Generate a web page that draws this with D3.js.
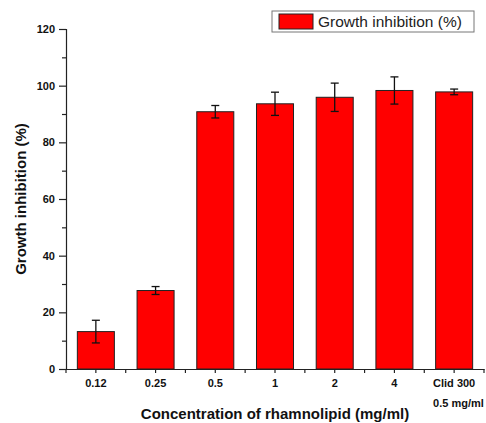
<!DOCTYPE html>
<html>
<head>
<meta charset="utf-8">
<script src="https://cdn.jsdelivr.net/npm/d3@7"></script>
<style>
  html, body { margin: 0; padding: 0; background: #fff; overflow: hidden; }
  svg { display: block; }
  text { font-family: "Liberation Sans", Arial, sans-serif; }
</style>
</head>
<body>
<svg></svg>
<script>
// chart data
const categories = ['0.12', '0.25', '0.5', '1', '2', '4', 'Clid 300'];
const inhibition = [13.2, 27.7, 90.8, 93.6, 95.9, 98.3, 97.8];
const errors = [4.0, 1.4, 2.2, 4.1, 5.0, 4.8, 1.0];
const yTicks = [0, 20, 40, 60, 80, 100, 120];
const yMinorTicks = [10, 30, 50, 70, 90, 110];

const width = 486, height = 423;
const margin = {top: 29, right: 2, bottom: 54, left: 66};
const innerWidth = width - margin.left - margin.right;
const innerHeight = height - margin.top - margin.bottom;

const svg = d3.select('svg')
  .attr('width', width)
  .attr('height', height)
  .attr('viewBox', `0 0 ${width} ${height}`);

const g = svg.append('g')
  .attr('transform', `translate(${margin.left}, ${margin.top})`);

const xScale = d3.scaleBand()
  .domain(categories)
  .range([0, innerWidth])
  .paddingInner(0.38)
  .paddingOuter(0.19);

const yScale = d3.scaleLinear()
  .domain([0, 120])
  .range([innerHeight, 0]);

// bars
g.selectAll('rect.bar').data(categories)
  .enter().append('rect')
    .attr('class', 'bar')
    .attr('x', d => xScale(d))
    .attr('y', (d, i) => yScale(inhibition[i]))
    .attr('width', xScale.bandwidth())
    .attr('height', (d, i) => innerHeight - yScale(inhibition[i]))
    .attr('fill', '#ff0000')
    .attr('stroke', '#222')
    .attr('stroke-width', 1);

// error bars
const eb = g.selectAll('g.err').data(categories)
  .enter().append('g')
    .attr('class', 'err')
    .attr('stroke', '#111')
    .attr('stroke-width', 1.3);
eb.append('line')
  .attr('x1', d => xScale(d) + xScale.bandwidth() / 2)
  .attr('x2', d => xScale(d) + xScale.bandwidth() / 2)
  .attr('y1', (d, i) => yScale(inhibition[i] + errors[i]))
  .attr('y2', (d, i) => yScale(inhibition[i] - errors[i]));
[1, -1].forEach(s => {
  eb.append('line')
    .attr('x1', d => xScale(d) + xScale.bandwidth() / 2 - 4)
    .attr('x2', d => xScale(d) + xScale.bandwidth() / 2 + 4)
    .attr('y1', (d, i) => yScale(inhibition[i] + s * errors[i]))
    .attr('y2', (d, i) => yScale(inhibition[i] + s * errors[i]));
});

// y axis
const yAxis = g.append('g')
  .call(d3.axisLeft(yScale).tickValues(yTicks).tickSize(7).tickPadding(4));
const yMinor = g.append('g')
  .call(d3.axisLeft(yScale).tickValues(yMinorTicks).tickSize(4));
yMinor.selectAll('.domain, text').remove();

// x axis: ticks at centres and band boundaries
const xAxis = g.append('g')
  .attr('transform', `translate(0, ${innerHeight})`)
  .call(d3.axisBottom(xScale).tickSize(4).tickPadding(6).tickSizeOuter(0));
const step = xScale.step();
const bounds = d3.range(categories.length + 1).map(i => i * step);
xAxis.selectAll('line.minor').data(bounds)
  .enter().append('line')
    .attr('class', 'minor')
    .attr('x1', d => d).attr('x2', d => d)
    .attr('y1', 0).attr('y2', 4);

[yAxis, yMinor, xAxis].forEach(a => {
  a.attr('font-family', null).attr('font-size', null);
  a.selectAll('.domain, line').attr('stroke', '#222').attr('stroke-width', 1.2);
  a.selectAll('text')
    .attr('fill', '#111')
    .style('font-size', '11px')
    .style('font-weight', 'bold');
});

// second line under the last category, left-aligned with "Clid 300"
const lastX = xScale('Clid 300') + xScale.bandwidth() / 2;
const lastLabel = xAxis.selectAll('.tick text').filter(d => d === 'Clid 300');
const lw = lastLabel.node().getComputedTextLength();
svg.append('text')
  .attr('x', margin.left + lastX - lw / 2)
  .attr('y', margin.top + innerHeight + 38)
  .attr('text-anchor', 'start')
  .attr('fill', '#111')
  .style('font-size', '11px')
  .style('font-weight', 'bold')
  .text('0.5 mg/ml');

// axis titles
svg.append('text')
  .attr('transform', `translate(26, ${margin.top + innerHeight / 2}) rotate(-90)`)
  .attr('text-anchor', 'middle')
  .attr('fill', '#111')
  .style('font-size', '15px')
  .style('font-weight', 'bold')
  .text('Growth inhibition (%)');

svg.append('text')
  .attr('x', margin.left + innerWidth / 2)
  .attr('y', 419)
  .attr('text-anchor', 'middle')
  .attr('fill', '#111')
  .style('font-size', '15px')
  .style('font-weight', 'bold')
  .text('Concentration of rhamnolipid (mg/ml)');

// legend
const legend = svg.append('g').attr('transform', 'translate(272, 11)');
legend.append('rect')
  .attr('width', 202).attr('height', 21)
  .attr('fill', '#fff')
  .attr('stroke', '#777');
legend.append('rect')
  .attr('x', 7).attr('y', 3)
  .attr('width', 34).attr('height', 15)
  .attr('fill', '#ff0000')
  .attr('stroke', '#222');
legend.append('text')
  .attr('x', 46).attr('y', 16)
  .attr('fill', '#222')
  .style('font-size', '15.5px')
  .text('Growth inhibition (%)');
</script>
</body>
</html>
